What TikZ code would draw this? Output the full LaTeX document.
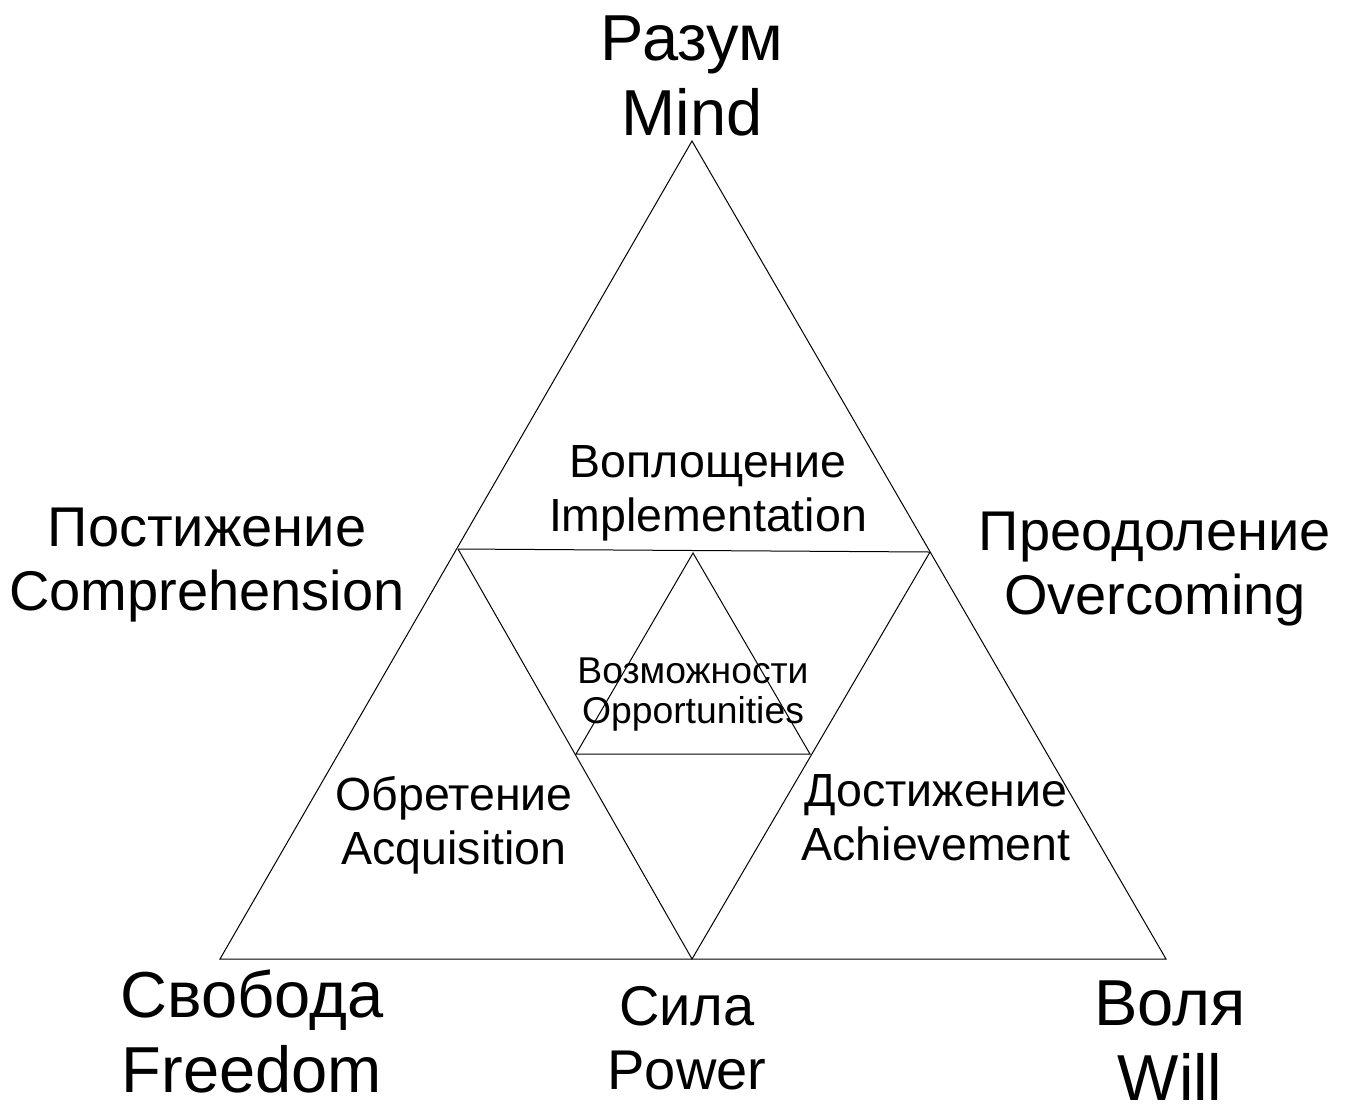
\documentclass[tikz,border=0pt]{standalone}
\usepackage{fontspec}
\setmainfont{Liberation Sans}
\newcommand\lnstrut{\rule[-0.2em]{0pt}{1em}}
\tikzset{
  edge/.style={draw=black, line width=1pt, line join=miter},
  lbl/.style={inner sep=0pt, outer sep=0pt, align=center, anchor=center},
  big/.style={lbl, font=\fontsize{65}{75}\selectfont},
  mid/.style={lbl, font=\fontsize{56}{64}\selectfont},
  inner/.style={lbl, font=\fontsize{46.5}{54}\selectfont},
  tiny/.style={lbl, font=\fontsize{37.3}{40}\selectfont}
}
\begin{document}
\begin{tikzpicture}[x=1pt, y=-1pt]
\useasboundingbox (0,0) rectangle (1348,1104);
% vertices
\coordinate (A)  at (692,141);
\coordinate (L)  at (220,959);
\coordinate (R)  at (1166,959);
\coordinate (ML) at (458,549);
\coordinate (MR) at (930,552);
\coordinate (MB) at (692,959);
\coordinate (T)  at (693,553);
\coordinate (TL) at (576,754);
\coordinate (TR) at (810,754);
% triangles
\draw[edge] (A) -- (L) -- (R) -- cycle;
\draw[edge] (ML) -- (MR);
\draw[edge] (ML) -- (MB) -- (MR);
\draw[edge] (T) -- (TL) -- (TR) -- cycle;
% labels
\node[big] (mind) at (692,78) {\lnstrut Разум\\\lnstrut Mind};
\node[big] (freedom) at (252,1035) {\lnstrut Свобода\\\lnstrut Freedom};
\node[big] (will) at (1170,1043) {\lnstrut Воля\\\lnstrut Will};
\node[mid] (compr) at (207,561.7) {\lnstrut Постижение\\\lnstrut Comprehension};
\node[mid] (overc) at (1155,566.2) {\lnstrut Преодоление\\\lnstrut Overcoming};
\node[mid] (power) at (687,1040.2) {\lnstrut Сила\\\lnstrut Power};
\node[inner] (impl) at (708,491) {\lnstrut Воплощение\\\lnstrut Implementation};
\node[inner] (acq) at (454,824) {\lnstrut Обретение\\\lnstrut Acquisition};
\node[inner] (ach) at (936,819.5) {\lnstrut Достижение\\\lnstrut Achievement};
\node[tiny] (opp) at (693,692.8) {\lnstrut Возможности\\\lnstrut Opportunities};
\end{tikzpicture}
\end{document}
